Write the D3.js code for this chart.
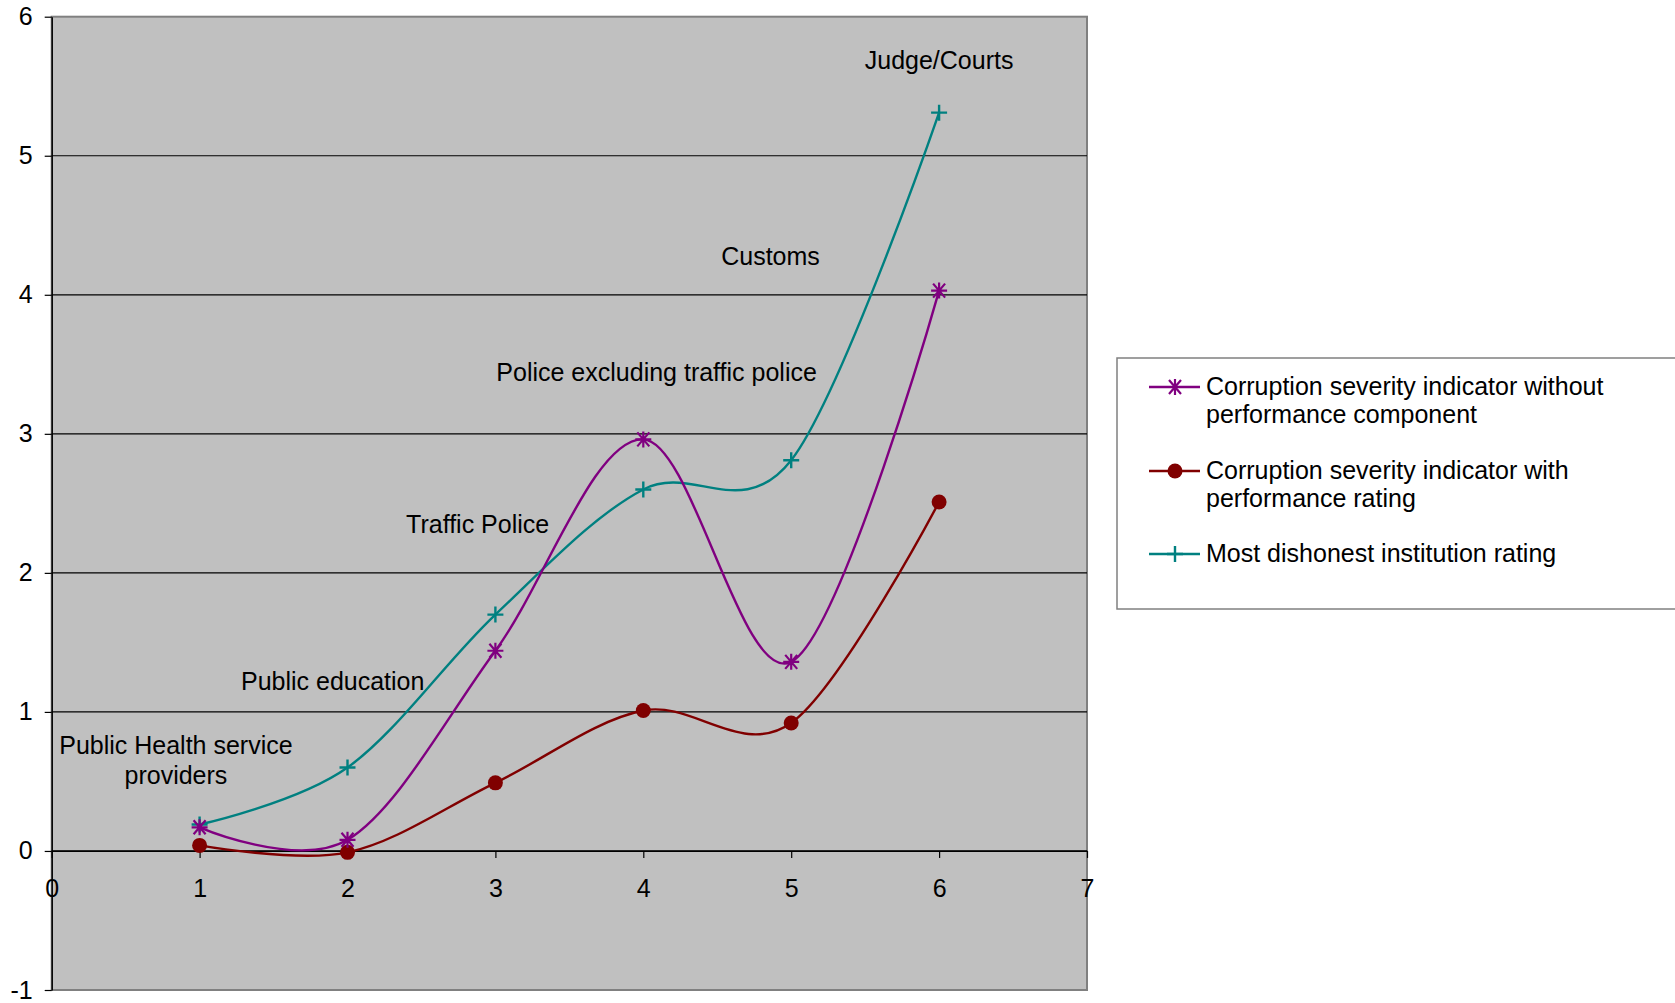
<!DOCTYPE html>
<html>
<head>
<meta charset="utf-8">
<script src="https://cdn.jsdelivr.net/npm/d3@7"></script>
<style>
  body { margin: 0; background: #fff; }
  text { font-family: "Liberation Sans", Arial, sans-serif; }
</style>
</head>
<body>
<div id="chart"></div>
<script>
// data
const xValues = [1, 2, 3, 4, 5, 6];
const withoutPerf = [0.17, 0.08, 1.44, 2.96, 1.36, 4.03];
const withPerf = [0.04, -0.01, 0.49, 1.01, 0.92, 2.51];
const dishonest = [0.19, 0.60, 1.70, 2.60, 2.81, 5.31];

// institution labels, placed in data units
const categories = ["Public Health service|providers", "Public education", "Traffic Police",
  "Police excluding traffic police", "Customs", "Judge/Courts"];
const labelX = [0.84, 1.9, 2.88, 4.09, 4.86, 6.0];
const labelY = [0.65, 1.22, 2.35, 3.44, 4.28, 5.69];

const xTicks = [0, 1, 2, 3, 4, 5, 6, 7];
const yTicks = [-1, 0, 1, 2, 3, 4, 5, 6];

const seriesNames = ["Corruption severity indicator without|performance component",
  "Corruption severity indicator with|performance rating",
  "Most dishonest institution rating"];

const width = 1675, height = 1003;
const plot = { left: 51.7, right: 1087, top: 16.7, bottom: 990 };
const fontSize = 25;

const svg = d3.select('#chart').append('svg')
    .attr('width', width)
    .attr('height', height);

const x = d3.scaleLinear().domain([0, 7]).range([plot.left, plot.right]);
const y = d3.scaleLinear().domain([-1, 6]).range([plot.bottom, plot.top]);

// plot area
svg.append('rect')
    .attr('x', plot.left).attr('y', plot.top)
    .attr('width', plot.right - plot.left)
    .attr('height', plot.bottom - plot.top)
    .attr('fill', '#c0c0c0')
    .attr('stroke', '#808080')
    .attr('stroke-width', 2);

// gridlines
svg.append('g').selectAll('line')
    .data(yTicks.filter(d => d > -1 && d < 6))
    .join('line')
    .attr('x1', plot.left).attr('x2', plot.right)
    .attr('y1', d => y(d)).attr('y2', d => y(d))
    .attr('stroke', '#000').attr('stroke-width', 1.2);

const fmt = d => d < 0 ? '-' + Math.abs(d) : String(d);

// y axis
const yAxis = svg.append('g')
    .attr('transform', `translate(${plot.left},0)`)
    .call(d3.axisLeft(y).tickValues(yTicks).tickFormat(fmt).tickSize(7).tickPadding(12).tickSizeOuter(0));
yAxis.select('.domain').attr('stroke', '#000').attr('stroke-width', 1.5);
yAxis.selectAll('.tick line').attr('stroke', '#000').attr('stroke-width', 1.2);
yAxis.selectAll('text').attr('font-size', fontSize).attr('fill', '#000')
    .attr('font-family', '"Liberation Sans", Arial, sans-serif');

// x axis at y = 0
const xAxis = svg.append('g')
    .attr('transform', `translate(0,${y(0)})`)
    .call(d3.axisBottom(x).tickValues(xTicks).tickFormat(fmt).tickSize(7).tickPadding(21).tickSizeOuter(0));
xAxis.select('.domain').attr('stroke', '#000').attr('stroke-width', 1.2);
xAxis.selectAll('.tick line').attr('stroke', '#000').attr('stroke-width', 1.2);
xAxis.selectAll('text').attr('font-size', fontSize).attr('fill', '#000')
    .attr('font-family', '"Liberation Sans", Arial, sans-serif');

// series
const series = [
  { name: seriesNames[0], values: withoutPerf, color: '#800080', marker: 'star' },
  { name: seriesNames[1], values: withPerf, color: '#800000', marker: 'circle' },
  { name: seriesNames[2], values: dishonest, color: '#008080', marker: 'plus' }
];

const line = d3.line()
    .x(d => x(d[0]))
    .y(d => y(d[1]))
    .curve(d3.curveCardinal.tension(0));

function drawMarker(g, type, color) {
  if (type === 'circle') {
    g.append('circle').attr('r', 7.5).attr('fill', color);
  } else if (type === 'plus') {
    g.append('path').attr('d', 'M-8,0H8M0,-8V8')
        .attr('stroke', color).attr('stroke-width', 2.4).attr('fill', 'none');
  } else {
    g.append('path').attr('d', 'M-8,0H8M-6,-7L6,7M-6,7L6,-7M0,-8V8')
        .attr('stroke', color).attr('stroke-width', 2.2).attr('fill', 'none');
  }
}

// draw in reverse so the purple sits on top
[series[2], series[1], series[0]].forEach(s => {
  const pts = xValues.map((xv, i) => [xv, s.values[i]]);
  svg.append('path')
      .datum(pts)
      .attr('fill', 'none')
      .attr('stroke', s.color)
      .attr('stroke-width', 2.4)
      .attr('d', line);
  pts.forEach(p => {
    const g = svg.append('g').attr('transform', `translate(${x(p[0])},${y(p[1])})`);
    drawMarker(g, s.marker, s.color);
  });
});

// institution labels
categories.forEach((c, i) => {
  const lines = c.split('|');
  const t = svg.append('text')
      .attr('x', x(labelX[i]))
      .attr('y', y(labelY[i]))
      .attr('text-anchor', 'middle')
      .attr('font-size', fontSize)
      .attr('fill', '#000');
  lines.forEach((l, j) => {
    t.append('tspan')
        .attr('x', x(labelX[i]))
        .attr('dy', j === 0 ? (0.35 - (lines.length - 1) * 0.6) + 'em' : '1.2em')
        .text(l);
  });
});

// legend
const legend = svg.append('g').attr('transform', 'translate(1117,358)');
legend.append('rect')
    .attr('width', 600).attr('height', 251)
    .attr('fill', '#fff').attr('stroke', '#808080').attr('stroke-width', 1.5);

const legendY = [29, 113, 196];
series.forEach((s, i) => {
  const g = legend.append('g').attr('transform', `translate(0,${legendY[i]})`);
  g.append('line').attr('x1', 32).attr('x2', 83)
      .attr('stroke', s.color).attr('stroke-width', 2.4);
  const m = g.append('g').attr('transform', 'translate(58,0)');
  drawMarker(m, s.marker, s.color);
  const t = g.append('text').attr('x', 89).attr('y', 8).attr('font-size', fontSize).attr('fill', '#000');
  s.name.split('|').forEach((l, j) => {
    t.append('tspan').attr('x', 89).attr('dy', j === 0 ? 0 : 28).text(l);
  });
});
</script>
</body>
</html>
